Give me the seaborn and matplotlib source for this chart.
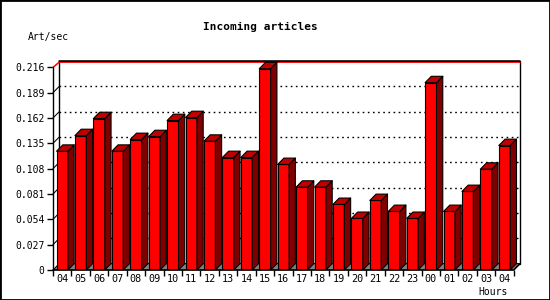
import numpy as np
import matplotlib
matplotlib.use("Agg")
import matplotlib.pyplot as plt
import seaborn as sns
from matplotlib.patches import Polygon, Rectangle
from matplotlib.collections import PolyCollection

hours = ["04", "05", "06", "07", "08", "09", "10", "11", "12", "13", "14", "15",
         "16", "17", "18", "19", "20", "21", "22", "23", "00", "01", "02", "03", "04"]
rates = [0.1266, 0.1433, 0.1614, 0.1266, 0.1391, 0.1422, 0.1593, 0.1625, 0.1373,
         0.1199, 0.1199, 0.2146, 0.1125, 0.0883, 0.0883, 0.0699, 0.0550, 0.0741,
         0.0624, 0.0550, 0.1997, 0.0624, 0.0837, 0.1075, 0.1327]
yticks = [0, 0.027, 0.054, 0.081, 0.108, 0.135, 0.162, 0.189, 0.216]
ytick_labels = ["0", "0.027", "0.054", "0.081", "0.108", "0.135", "0.162", "0.189", "0.216"]
title = "Incoming articles"
ylabel = "Art/sec"
xlabel = "Hours"

sns.set_theme(style="white")
plt.rcParams['font.family'] = ['DejaVu Sans Mono', 'DejaVu Sans']

FRONT, TOP, SIDE, FLOOR = "#ff0000", "#c00000", "#800000", "#808080"
DX, DY = 0.34, 0.0068
W = 0.62
ymax = yticks[-1]
n = len(rates)

fig = plt.figure(figsize=(5.5, 3), dpi=100)
fig.patch.set_facecolor("white")
ax = fig.add_axes([53 / 550, 30 / 300, 467 / 550, 209 / 300])

# back wall and floor
ax.add_patch(Rectangle((-0.5 + DX, DY), n, ymax, facecolor="white", edgecolor="black",
                       lw=1, zorder=0.5, clip_on=False))
ax.add_patch(Polygon([(-0.5, 0), (n - 0.5, 0), (n - 0.5 + DX, DY), (-0.5 + DX, DY)],
                     closed=True, facecolor=FLOOR, edgecolor="black", lw=0.75, zorder=0.6,
                     clip_on=False))
# gridlines on back wall
for t in yticks[1:-1]:
    ax.plot([-0.5 + DX, n - 0.5 + DX], [t + DY, t + DY], color="black", lw=1,
            ls=(0, (1.2, 2.5)), zorder=0.7)
    ax.plot([-0.5, -0.5 + DX], [t, t + DY], color="black", lw=0.75, zorder=0.7, clip_on=False)
# top red edge
ax.plot([-0.5, -0.5 + DX, n - 0.5 + DX], [ymax, ymax + DY - 0.0012, ymax + DY - 0.0012],
        color="red", lw=1.1, zorder=0.8, clip_on=False)
ax.plot([-0.5 + DX, n - 0.5 + DX], [ymax + DY, ymax + DY], color="black", lw=1.1,
        zorder=0.9, clip_on=False)

# front faces
sns.barplot(x=np.arange(n), y=rates, width=W, color=FRONT, saturation=1,
            edgecolor="black", linewidth=0.8, ax=ax, zorder=3)

# top and side faces
tops, sides = [], []
for i, v in enumerate(rates):
    xl, xr = i - W / 2, i + W / 2
    tops.append([(xl, v), (xr, v), (xr + DX, v + DY), (xl + DX, v + DY)])
    sides.append([(xr, 0), (xr, v), (xr + DX, v + DY), (xr + DX, DY)])
ax.add_collection(PolyCollection(sides, facecolors=SIDE, edgecolors="black", linewidths=0.8,
                                 zorder=3))
ax.add_collection(PolyCollection(tops, facecolors=TOP, edgecolors="black", linewidths=0.8,
                                 zorder=3))

# front axes
ax.plot([-0.5, -0.5], [0, ymax], color="black", lw=1, zorder=4, clip_on=False)
ax.plot([-0.5, n - 0.5, n - 0.5 + DX], [0, 0, DY], color="black", lw=1, zorder=4,
        clip_on=False)

ax.set_xlim(-0.5, n - 0.5 + DX)
ax.set_ylim(0, ymax + DY)
for s in ax.spines.values():
    s.set_visible(False)
ax.patch.set_alpha(0)

ax.set_yticks(yticks, ytick_labels)
ax.set_xticks(np.arange(n), hours)
ax.set_xticks(np.arange(n + 1) - 0.5, minor=True)
ax.tick_params(axis="y", which="major", left=True, direction="out", length=4, width=1,
               labelsize=7, pad=2, color="black", labelcolor="black")
ax.tick_params(axis="x", which="major", bottom=False, length=0, labelsize=7.3, pad=3,
               labelcolor="black")
ax.tick_params(axis="x", which="minor", bottom=True, direction="out", length=4, width=1,
               color="black")
ax.set_xlabel("")
ax.set_ylabel("")

fig.text(260 / 550, 1 - 27 / 300, title, ha="center", va="center", fontsize=8,
         fontweight="bold", color="black")
fig.text(28 / 550, 1 - 37 / 300, ylabel, ha="left", va="center", fontsize=7, color="black")
fig.text(508 / 550, 1 - 292 / 300, xlabel, ha="right", va="center", fontsize=7, color="black")

fig.patches.append(Rectangle((0, 0), 1, 1, transform=fig.transFigure, fill=False,
                             edgecolor="black", lw=2))

fig.savefig("out.png", dpi=100)
